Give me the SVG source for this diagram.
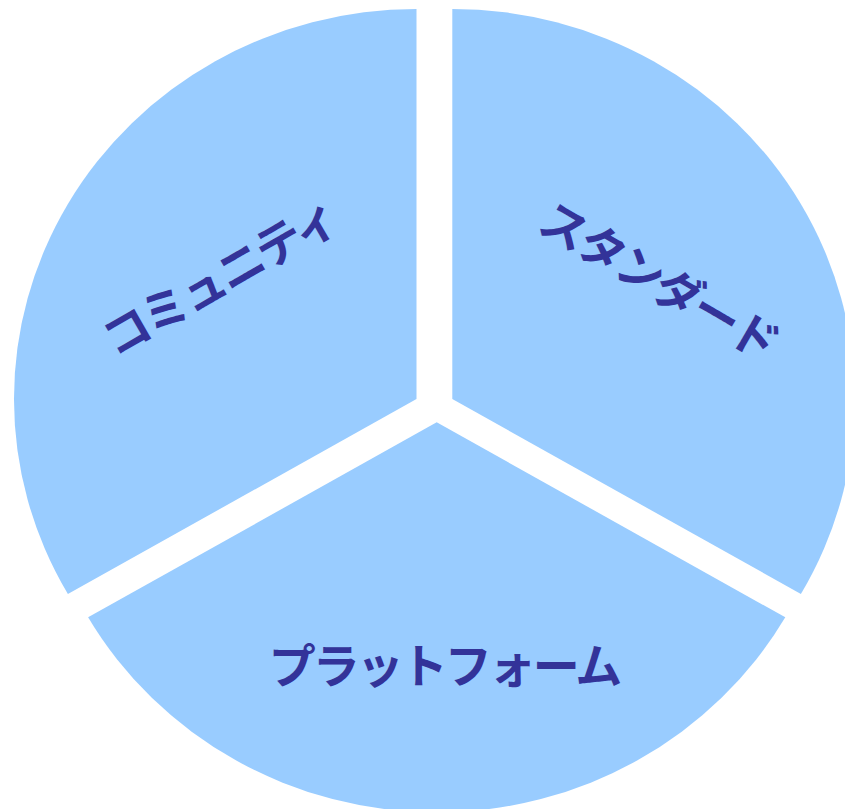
<svg xmlns="http://www.w3.org/2000/svg" width="845" height="809" viewBox="0 0 845 809">
<style>
.seg{fill:#99CCFF;stroke:none}
.lbl{font-family:"Noto Sans CJK JP","Noto Sans",sans-serif;font-size:47px;font-weight:700;letter-spacing:-3px;fill:#333399;text-anchor:middle;dominant-baseline:central}
</style>
<rect width="845" height="809" fill="#FFFFFF"/>
<g id="community">
<path class="seg" d="M416.5 399 L416.5 9 A402.5 390 0 0 0 67.9 594 Z"/>
<text class="lbl" x="218" y="275" transform="rotate(-30 218 275)">コミュニティ</text>
</g>
<g id="standard">
<path class="seg" d="M452.3 399 L452.3 9 A402.5 390 0 0 1 800.9 594 Z"/>
<text class="lbl" x="660" y="278" transform="rotate(30 660 278)">スタンダード</text>
</g>
<g id="platform">
<path class="seg" d="M436.7 422.3 L785.3 617.3 A402.5 390 0 0 1 88.1 617.3 Z"/>
<text class="lbl" x="444" y="662">プラットフォーム</text>
</g>
<g id="connectors"></g>
</svg>
